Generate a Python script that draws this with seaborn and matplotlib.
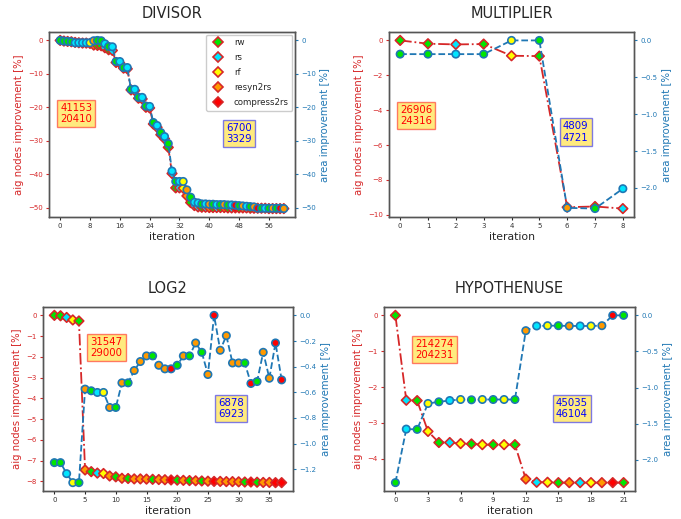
import numpy as np
import pandas as pd
import matplotlib
matplotlib.use("Agg")
import matplotlib.pyplot as plt
from matplotlib.lines import Line2D
import seaborn as sns

# ---------------- data ----------------
op_names = ["rw", "rs", "rf", "resyn2rs", "compress2rs"]
op_colors = ["#00e600", "#00e5ff", "#ffff00", "#ff9900", "#ff0000"]

div_aig = [0, -0.2, -0.3, -0.4, -0.6, -0.7, -0.8, -0.8, -0.9, -1.4, -1.5, -1.6, -2.2, -2.8, -3.0,
           -6.6, -6.8, -8.3, -8.5, -14.8, -15.0, -17.3, -17.5, -20.0, -20.2, -25.0, -26.0, -28.2, -29.4,
           -32.0, -39.8, -44.1, -44.1, -44.2, -46.5, -48.5, -49.4, -49.8, -49.9, -49.9, -50.0, -50.0,
           -50.0, -50.0, -50.0, -50.1, -50.1, -50.1, -50.1, -50.1, -50.1, -50.2, -50.2, -50.2, -50.2,
           -50.2, -50.3, -50.3, -50.3, -50.3, -50.3]
div_area = [0, -0.2, -0.3, -0.4, -0.7, -0.7, -0.7, -0.7, -0.7, -0.1, 0.0, -0.1, -1.0, -1.8, -1.9,
            -6.3, -6.3, -8.1, -8.1, -14.6, -14.6, -17.0, -17.0, -19.6, -19.7, -24.5, -25.4, -27.5, -28.7,
            -30.8, -39.0, -42.1, -42.1, -42.1, -44.6, -46.8, -48.3, -48.5, -48.8, -48.8, -48.9, -48.9,
            -49.0, -49.0, -49.0, -49.1, -49.1, -49.2, -49.3, -49.4, -49.5, -49.6, -49.7, -50.1, -50.1,
            -50.1, -50.1, -50.1, -50.1, -50.1, -50.2]
div_ops = ["rw", "rw", "rw", "rw", "rs", "rs", "rs", "rs", "rf", "resyn2rs", "rw", "rw", "rs", "rw", "rs",
           "rw", "rs", "rw", "rs", "rw", "rs", "rw", "rs", "rw", "rs", "rw", "rs", "rw", "rs",
           "rw", "rs", "rw", "rs", "rf", "resyn2rs", "rw", "rs", "rs", "rw", "rs", "resyn2rs", "rw",
           "rs", "rw", "resyn2rs", "rw", "rs", "compress2rs", "rw", "resyn2rs", "rs", "rw", "resyn2rs",
           "compress2rs", "rw", "rs", "rw", "resyn2rs", "rw", "compress2rs", "resyn2rs"]

mul_aig = [0, -0.19, -0.23, -0.21, -0.88, -0.90, -9.56, -9.52, -9.64]
mul_area = [-0.186, -0.186, -0.186, -0.186, 0.0, 0.0, -2.27, -2.28, -2.01]
mul_ops = ["rw", "rw", "rs", "rw", "rf", "rw", "resyn2rs", "rw", "rs"]

log_aig = [0, -0.02, -0.10, -0.22, -0.27, -7.45, -7.53, -7.60, -7.62, -7.74, -7.78, -7.85, -7.86,
           -7.88, -7.88, -7.89, -7.90, -7.91, -7.92, -7.93, -7.94, -7.95, -7.96, -7.97, -7.98, -7.99,
           -8.00, -8.00, -8.01, -8.01, -8.02, -8.03, -8.03, -8.04, -8.05, -8.05, -8.06, -8.06]
log_area = [-1.148, -1.148, -1.234, -1.304, -1.304, -0.575, -0.588, -0.601, -0.601, -0.718, -0.718,
            -0.526, -0.526, -0.430, -0.360, -0.316, -0.316, -0.389, -0.417, -0.417, -0.389, -0.316,
            -0.316, -0.215, -0.288, -0.461, 0.0, -0.272, -0.158, -0.371, -0.371, -0.371, -0.531,
            -0.516, -0.288, -0.490, -0.215, -0.503]
log_ops = ["rw", "rw", "rs", "rf", "rw", "resyn2rs", "rw", "rs", "rf", "resyn2rs", "rw", "resyn2rs",
           "rw", "resyn2rs", "resyn2rs", "resyn2rs", "rw", "resyn2rs", "resyn2rs", "compress2rs", "rw",
           "resyn2rs", "rw", "resyn2rs", "rw", "resyn2rs", "compress2rs", "resyn2rs", "resyn2rs",
           "resyn2rs", "resyn2rs", "rw", "compress2rs", "rw", "resyn2rs", "resyn2rs", "compress2rs",
           "compress2rs"]

hyp_aig = [0, -2.37, -2.38, -3.24, -3.55, -3.55, -3.58, -3.59, -3.61, -3.61, -3.61, -3.61, -4.57,
           -4.66, -4.66, -4.67, -4.67, -4.67, -4.67, -4.67, -4.67, -4.67]
hyp_area = [-2.318, -1.576, -1.580, -1.221, -1.198, -1.180, -1.166, -1.170, -1.166, -1.166, -1.166,
            -1.166, -0.212, -0.147, -0.143, -0.143, -0.147, -0.147, -0.147, -0.143, 0.0, 0.0]
hyp_ops = ["rw", "rs", "rw", "rf", "rw", "rs", "rf", "rw", "rf", "rw", "rf", "rw", "resyn2rs", "rs",
           "rf", "rw", "resyn2rs", "rs", "rf", "resyn2rs", "compress2rs", "rw"]

titles = ["DIVISOR", "MULTIPLIER", "LOG2", "HYPOTHENUSE"]
aig_counts = ["41153\n20410", "26906\n24316", "31547\n29000", "214274\n204231"]
area_counts = ["6700\n3329", "4809\n4721", "6878\n6923", "45035\n46104"]
xtick_steps = [8, 1, 5, 3]

# ---------------- style ----------------
sns.set_style("ticks")
plt.rcParams["font.family"] = ["DejaVu Sans"]
RED = "#d62728"
BLUE = "#1f77b4"
palette = dict(zip(op_names, op_colors))

fig = plt.figure(figsize=(6.81, 5.19), dpi=100)
positions = [
    [49 / 681, 1 - 217 / 519, 246 / 681, 185 / 519],
    [389 / 681, 1 - 217 / 519, 245 / 681, 185 / 519],
    [43 / 681, 1 - 491 / 519, 250 / 681, 184 / 519],
    [384 / 681, 1 - 491 / 519, 251 / 681, 184 / 519],
]
box_pos = [((0.045, 0.56), (0.72, 0.45)),
           ((0.045, 0.55), (0.71, 0.46)),
           ((0.19, 0.78), (0.70, 0.45)),
           ((0.125, 0.77), (0.685, 0.45))]

datasets = [(div_aig, div_area, div_ops), (mul_aig, mul_area, mul_ops),
            (log_aig, log_area, log_ops), (hyp_aig, hyp_area, hyp_ops)]

for i, (aig, area, ops) in enumerate(datasets):
    df = pd.DataFrame({"iteration": np.arange(len(aig)), "aig": aig, "area": area, "op": ops})
    ax = fig.add_axes(positions[i])
    ax2 = ax.twinx()

    sns.lineplot(data=df, x="iteration", y="aig", ax=ax, color=RED, linestyle="-.",
                 linewidth=1.3, zorder=1)
    sns.scatterplot(data=df, x="iteration", y="aig", hue="op", palette=palette, ax=ax,
                    marker="D", s=24, edgecolor=RED, linewidth=1.2, legend=False, zorder=2)

    sns.lineplot(data=df, x="iteration", y="area", ax=ax2, color=BLUE, linestyle="--",
                 linewidth=1.3, zorder=1)
    sns.scatterplot(data=df, x="iteration", y="area", hue="op", palette=palette, ax=ax2,
                    marker="o", s=28, edgecolor=BLUE, linewidth=1.2, legend=False, zorder=2)

    ax.set_title(titles[i], fontsize=10.5, pad=10)
    ax.set_xlabel("iteration", fontsize=7.8, labelpad=2)
    ax.set_ylabel("aig nodes improvement [%]", color=RED, fontsize=7.3, labelpad=3)
    ax2.set_ylabel("area improvement [%]", color=BLUE, fontsize=7.3, labelpad=3)
    n = len(aig)
    ax.set_xticks(list(range(0, n, xtick_steps[i])))
    ax.tick_params(axis="y", colors=RED, labelsize=5, length=2.5, pad=2)
    ax.tick_params(axis="x", labelsize=5, length=2.5, pad=2, labelcolor="#333333")
    ax2.tick_params(axis="y", colors=BLUE, labelsize=5, length=2.5, pad=2)
    for a in (ax, ax2):
        for sp in a.spines.values():
            sp.set_edgecolor("#555555")
            sp.set_linewidth(1.0)
            sp.set_visible(True)

    (rx, ry), (bx, by) = box_pos[i]
    ax.text(rx, ry, aig_counts[i], transform=ax.transAxes, color="red", fontsize=7.3,
            va="center", ha="left", linespacing=1.15,
            bbox=dict(facecolor="gold", edgecolor="red", alpha=0.5, boxstyle="square,pad=0.3"))
    ax2.text(bx, by, area_counts[i], transform=ax.transAxes, color="blue", fontsize=7.3,
             va="center", ha="left", linespacing=1.15,
             bbox=dict(facecolor="gold", edgecolor="blue", alpha=0.5, boxstyle="square,pad=0.3"))

    if i == 0:
        handles = [Line2D([], [], marker="D", linestyle="None", markerfacecolor=c,
                          markeredgecolor=RED, markeredgewidth=1.2, markersize=4.8)
                   for c in op_colors]
        ax2.legend(handles, op_names, loc="upper right", fontsize=6.2, labelspacing=0.7,
                   borderaxespad=0.3, handletextpad=0.8, framealpha=1.0)

fig.savefig("out.png", dpi=100)
